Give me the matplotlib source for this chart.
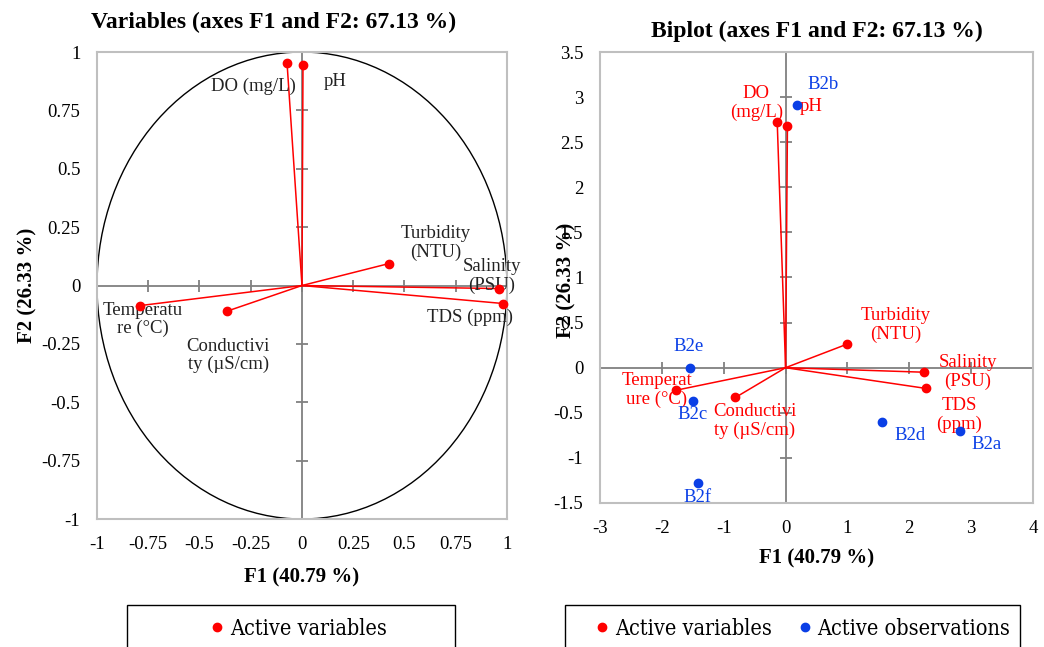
import numpy as np
import matplotlib.pyplot as plt
from matplotlib.lines import Line2D
from matplotlib.patches import Rectangle, Circle

# ---- data ----
var_names = ["DO (mg/L)", "pH", "Turbidity\n(NTU)", "Salinity\n(PSU)", "TDS (ppm)",
             "Temperatu\nre (°C)", "Conductivi\nty (µS/cm)"]
var_f1 = [-0.073, 0.005, 0.424, 0.96, 0.98, -0.79, -0.366]
var_f2 = [0.955, 0.946, 0.094, -0.013, -0.077, -0.086, -0.11]

bi_names = ["DO\n(mg/L)", "pH", "Turbidity\n(NTU)", "Salinity\n(PSU)", "TDS\n(ppm)",
            "Temperat\nure (°C)", "Conductivi\nty (µS/cm)"]
bi_f1 = [-0.135, 0.03, 0.99, 2.23, 2.27, -1.77, -0.81]
bi_f2 = [2.72, 2.68, 0.26, -0.05, -0.23, -0.25, -0.33]

obs_names = ["B2a", "B2b", "B2c", "B2d", "B2e", "B2f"]
obs_f1 = [2.82, 0.18, -1.50, 1.56, -1.54, -1.42]
obs_f2 = [-0.70, 2.91, -0.37, -0.60, 0.00, -1.28]

left_ticks = [-1, -0.75, -0.5, -0.25, 0, 0.25, 0.5, 0.75, 1]
left_ticklabels = ["-1", "-0.75", "-0.5", "-0.25", "0", "0.25", "0.5", "0.75", "1"]
right_xticks = [-3, -2, -1, 0, 1, 2, 3, 4]
right_xticklabels = ["-3", "-2", "-1", "0", "1", "2", "3", "4"]
right_yticks = [-1.5, -1, -0.5, 0, 0.5, 1, 1.5, 2, 2.5, 3, 3.5]
right_yticklabels = ["-1.5", "-1", "-0.5", "0", "0.5", "1", "1.5", "2", "2.5", "3", "3.5"]

# label offsets (points)
var_off = [(-24, -17), (23, -12), (34, 15), (-5, 9), (-24, -10), (2, -10), (1, -32)]
bi_off = [(-15, 14), (17, 14), (35, 14), (32, 0), (24, -19), (-14, 0), (14, -17)]
obs_off = [(19, -10), (19, 15), (0, -10), (20, -10), (-1, 15), (0, -10)]

RED = "#FF0000"
BLUE = "#0A3FE6"
SERIF = "Liberation Serif"
LAB = 13.5

fig = plt.figure(figsize=(10.44, 6.47), dpi=100)
ax1 = fig.add_axes([0.0929, 0.1978, 0.3927, 0.7218])
ax2 = fig.add_axes([0.5747, 0.2226, 0.4148, 0.697])


def style_axes(ax, xticks, yticks, xlabels, ylabels, tsize=9):
    ax.set_xticks(xticks)
    ax.set_yticks(yticks)
    ax.set_xticklabels(xlabels)
    ax.set_yticklabels(ylabels)
    ax.tick_params(length=0, labelsize=13.5, pad=12)
    for lab in ax.get_xticklabels() + ax.get_yticklabels():
        lab.set_family(SERIF)
    for s in ax.spines.values():
        s.set_color("#BFBFBF")
        s.set_linewidth(1.5)
    ax.axhline(0, color="#808080", lw=1.3, zorder=1)
    ax.axvline(0, color="#808080", lw=1.3, zorder=1)
    # small cross ticks on the zero lines
    ax.plot(xticks, [0] * len(xticks), ls="none", marker="|", ms=tsize, mew=1.3,
            color="#808080", zorder=1, clip_on=False)
    ax.plot([0] * len(yticks), yticks, ls="none", marker="_", ms=tsize, mew=1.3,
            color="#808080", zorder=1, clip_on=False)


# ---- left: correlation circle ----
ax1.set_xlim(-1, 1)
ax1.set_ylim(-1, 1)
style_axes(ax1, left_ticks, left_ticks, left_ticklabels, left_ticklabels)
ax1.add_patch(Circle((0, 0), 1, fill=False, ec="black", lw=1.0, zorder=2))
for x, y in zip(var_f1, var_f2):
    ax1.plot([0, x], [0, y], color=RED, lw=1.1, zorder=3)
ax1.plot(var_f1, var_f2, "o", color=RED, ms=6, zorder=4, clip_on=False)
for n, x, y, off in zip(var_names, var_f1, var_f2, var_off):
    ax1.annotate(n, (x, y), xytext=off, textcoords="offset points", ha="center",
                 va="center", fontsize=LAB, family=SERIF, color="#222222",
                 linespacing=1.1, annotation_clip=False)
ax1.set_title("Variables (axes F1 and F2: 67.13 %)", fontsize=17, fontweight="bold",
              family=SERIF, pad=17, x=0.43)
ax1.set_xlabel("F1 (40.79 %)", fontsize=15, fontweight="bold", family=SERIF)
ax1.set_ylabel("F2 (26.33 %)", fontsize=15, fontweight="bold", family=SERIF)
ax1.xaxis.set_label_coords(0.5, -0.103)
ax1.yaxis.set_label_coords(-0.146, 0.5)

# ---- right: biplot ----
ax2.set_xlim(-3, 4)
ax2.set_ylim(-1.5, 3.5)
style_axes(ax2, right_xticks, right_yticks, right_xticklabels, right_yticklabels)
for x, y in zip(bi_f1, bi_f2):
    ax2.plot([0, x], [0, y], color=RED, lw=1.1, zorder=3)
ax2.plot(bi_f1, bi_f2, "o", color=RED, ms=6, zorder=4)
ax2.plot(obs_f1, obs_f2, "o", color=BLUE, ms=6, zorder=4)
for n, x, y, off in zip(bi_names, bi_f1, bi_f2, bi_off):
    ax2.annotate(n, (x, y), xytext=off, textcoords="offset points", ha="center",
                 va="center", fontsize=LAB, family=SERIF, color=RED, linespacing=1.1)
for n, x, y, off in zip(obs_names, obs_f1, obs_f2, obs_off):
    ax2.annotate(n, (x, y), xytext=off, textcoords="offset points", ha="center",
                 va="center", fontsize=LAB, family=SERIF, color=BLUE)
ax2.set_title("Biplot (axes F1 and F2: 67.13 %)", fontsize=17, fontweight="bold",
              family=SERIF, pad=11)
ax2.set_xlabel("F1 (40.79 %)", fontsize=15, fontweight="bold", family=SERIF)
ax2.set_ylabel("F2 (26.33 %)", fontsize=15, fontweight="bold", family=SERIF)
ax2.xaxis.set_label_coords(0.5, -0.102)
ax2.yaxis.set_label_coords(-0.054, 0.494)

# ---- legends ----
red_h = Line2D([], [], ls="none", marker="o", color=RED, ms=6)
blue_h = Line2D([], [], ls="none", marker="o", color=BLUE, ms=6)
fig.add_artist(Rectangle((127 / 1044, -0.05), 328 / 1044, 0.05 + 42 / 647,
                         transform=fig.transFigure, fill=False, ec="black", lw=1))
fig.add_artist(Rectangle((565 / 1044, -0.05), 455 / 1044, 0.05 + 42 / 647,
                         transform=fig.transFigure, fill=False, ec="black", lw=1))
leg_font = {"family": "DejaVu Serif", "stretch": "condensed", "size": 15.5}
fig.legend([red_h], ["Active variables"], loc="center", bbox_to_anchor=(297 / 1044, 1 - 629 / 647),
           frameon=False, prop=leg_font, handletextpad=0.1, handlelength=1)
fig.legend([red_h, blue_h], ["Active variables", "Active observations"], loc="center",
           bbox_to_anchor=(801 / 1044, 1 - 629 / 647), ncol=2, frameon=False, prop=leg_font,
           handletextpad=0.1, handlelength=1, columnspacing=1.0)

fig.savefig("out.png", dpi=100)
